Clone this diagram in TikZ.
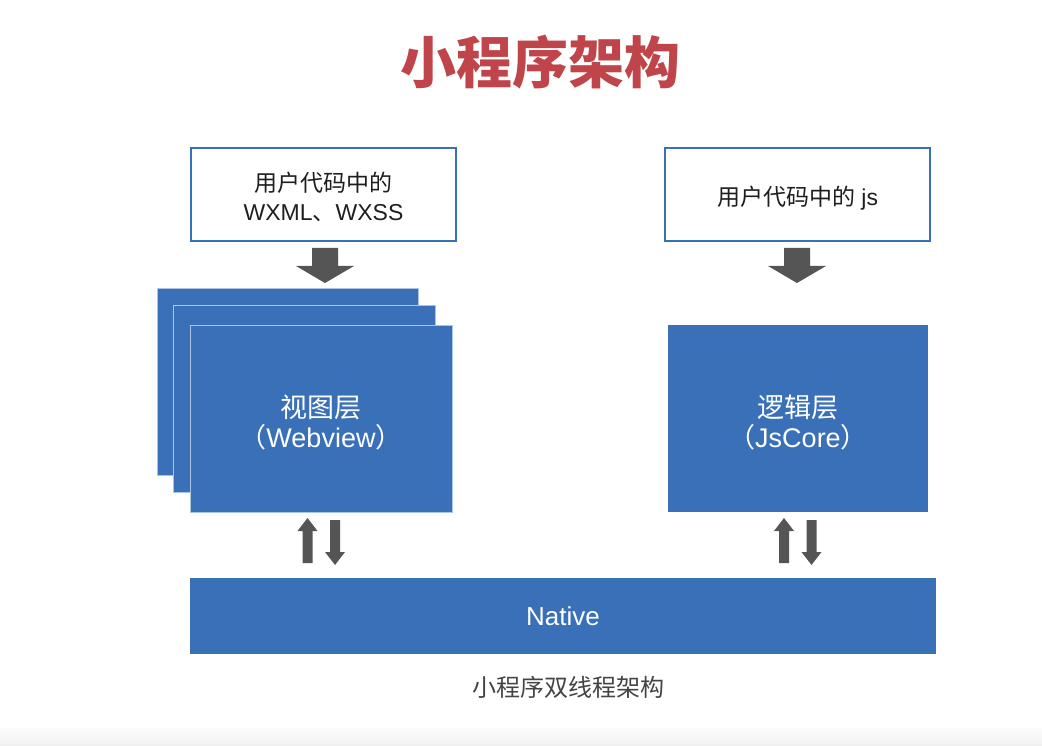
\documentclass[tikz,border=0pt]{standalone}
\usepackage{fontspec}
\setmainfont{Liberation Sans}
\newfontfamily\cjk{Noto Sans CJK SC}
\definecolor{tblue}{HTML}{3A70B8}
\definecolor{tedge}{HTML}{A9C4E6}
\definecolor{tred}{HTML}{C0454A}
\definecolor{tgray}{HTML}{555555}
\definecolor{ttext}{HTML}{1E1E1E}
\definecolor{tcap}{HTML}{444444}
\tikzset{
  codebox/.style={draw=tblue, line width=1.6pt, fill=white, minimum width=265pt, minimum height=93pt, inner sep=0pt},
  codetext/.style={align=center, font=\fontsize{23}{29}\selectfont, text=ttext, inner sep=0pt},
  layerbox/.style={draw=tedge, line width=1pt, fill=tblue, minimum width=262pt, minimum height=187pt, inner sep=0pt},
  layertext/.style={align=center, font=\fontsize{27}{30}\selectfont, text=white, inner sep=0pt},
  nativebox/.style={fill=tblue, minimum width=746pt, minimum height=76pt, inner sep=0pt, font=\fontsize{26}{30}\selectfont, text=white},
  fatarrow/.style={fill=tgray, draw=none}
}
\begin{document}
\begin{tikzpicture}[x=1pt,y=-1pt]
\useasboundingbox (0,0) rectangle (1042,746);
\fill[white] (0,0) rectangle (1042,746);
\shade[top color=white, bottom color=black!6] (0,725) rectangle (1042,746);

% title
\node[font=\fontsize{56}{60}\selectfont\cjk\bfseries, text=tred] (title) at (540,62) {小程序架构};

% code boxes
\node[codebox] (codeL) at (323.5,194.5) {};
\node[codetext] (codeLt) at ([yshift=-2.5pt]codeL.center) {{\cjk 用户代码中的}\\WXML{\cjk 、}WXSS};
\node[codebox] (codeR) at (797.5,194.5) {};
\node[codetext] (codeRt) at ([yshift=-3.5pt]codeR.center) {{\cjk 用户代码中的} js};

% stacked view layers
\node[layerbox, minimum width=261pt, minimum height=186pt] (back) at (287.5,382) {};
\node[layerbox] (mid) at (304,398.5) {};
\node[layerbox] (view) at (321,418.5) {};
\node[layertext] (viewt) at ([yshift=-4pt]view.center) {{\cjk 视图层}\\{\cjk （}Webview{\cjk ）}};
\node[layerbox, draw=none, minimum width=260pt] (logic) at (798,418.5) {};
\node[layertext] (logict) at ([yshift=-4pt]logic.center) {{\cjk 逻辑层}\\{\cjk （}JsCore{\cjk ）}};

% native
\node[nativebox] (native) at (563,616) {Native};

% caption
\node[font=\fontsize{24}{28}\selectfont\cjk, text=tcap] (cap) at (568,687) {小程序双线程架构};

% fat down arrows
\foreach \cx in {325,797}{
  \fill[fatarrow] (\cx-13,248) -- (\cx+13,248) -- (\cx+13,266) -- (\cx+29,266) -- (\cx,283) -- (\cx-29,266) -- (\cx-13,266) -- cycle;
}
% up/down arrow pairs
\foreach \ux/\dx in {307.5/335, 784/811.5}{
  \fill[fatarrow] (\ux,518) -- (\ux+10,531) -- (\ux+5,531) -- (\ux+5,563) -- (\ux-5,563) -- (\ux-5,531) -- (\ux-10,531) -- cycle;
  \fill[fatarrow] (\dx,565) -- (\dx+10,552) -- (\dx+5,552) -- (\dx+5,520) -- (\dx-5,520) -- (\dx-5,552) -- (\dx-10,552) -- cycle;
}
\end{tikzpicture}
\end{document}
